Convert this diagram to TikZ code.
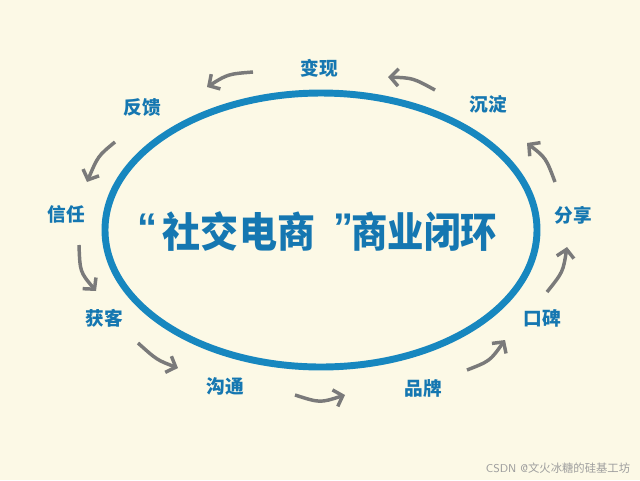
\documentclass[tikz,border=0pt]{standalone}
\usepackage{fontspec}
\usetikzlibrary{arrows.meta}
\newfontfamily\cjk{Noto Sans CJK SC}
\newfontfamily\qfont{Liberation Sans}
\definecolor{bg}{HTML}{FCF9E6}
\definecolor{ringblue}{HTML}{1787BF}
\definecolor{txtblue}{HTML}{1577B1}
\definecolor{arrowgray}{HTML}{7A7A7A}
\tikzset{
  ring/.style={draw=ringblue, line width=5.2pt},
  lbl/.style={text=txtblue, font=\cjk\bfseries\fontsize{14}{15}\selectfont, inner sep=0pt},
  ttl/.style={text=txtblue, font=\cjk\bfseries\fontsize{31}{33}\selectfont, inner sep=0pt, anchor=base},
  qmark/.style={text=txtblue, font=\qfont\bfseries\fontsize{30}{32}\selectfont, inner sep=0pt, anchor=base},
  flow/.style={draw=arrowgray, line width=2.6pt, -{Straight Barb[length=6pt,width=13pt]}},
  wm/.style={text=black!38, font=\sffamily\fontsize{8.5}{9}\selectfont, inner sep=0pt}
}
\begin{document}
\begin{tikzpicture}[x=0.75pt,y=-0.75pt]
\fill[bg] (0,0) rectangle (640,480);
\useasboundingbox (0,0) rectangle (640,480);
\draw[ring] (321,230) ellipse [x radius=162pt, y radius=102.75pt];
\node[qmark] (q1) at (147,241) {“};
\node[ttl] (t1) at (239,247) {\scalebox{0.92}[1]{社交电商}};
\node[qmark] (q2) at (343,241) {”};
\node[ttl] (t2) at (424,247) {\scalebox{0.88}[1]{商业闭环}};
\node[lbl] (bx) at (319,68) {变现};
\node[lbl] (cd) at (488,104) {沉淀};
\node[lbl] (fx) at (573,215) {分享};
\node[lbl] (kb) at (542,318) {口碑};
\node[lbl] (pp) at (423,388) {品牌};
\node[lbl] (gt) at (225,386) {沟通};
\node[lbl] (hk) at (104,318) {获客};
\node[lbl] (xr) at (66,214) {信任};
\node[lbl] (fk) at (142,107) {反馈};
\node[wm] (wmk) at (558,468) {CSDN @\cjk 文火冰糖的硅基工坊};
% arrow end points
\coordinate (a1s) at (435,90);  \coordinate (a1e) at (388,77);
\coordinate (a2s) at (253,72);  \coordinate (a2e) at (207,87);
\coordinate (a3s) at (115,142); \coordinate (a3e) at (87,182);
\coordinate (a4s) at (79,245);  \coordinate (a4e) at (96,291);
\coordinate (a5s) at (138,343); \coordinate (a5e) at (178,368);
\coordinate (a6s) at (295,395); \coordinate (a6e) at (345,395);
\coordinate (a7s) at (467,370); \coordinate (a7e) at (505,340);
\coordinate (a8s) at (547,292); \coordinate (a8e) at (567,247);
\coordinate (a9s) at (555,182); \coordinate (a9e) at (527,143);
\draw[flow] (a1s) .. controls (413,78) .. (a1e);
\draw[flow] (a2s) .. controls (228,74) .. (a2e);
\draw[flow] (a3s) .. controls (98,156) .. (a3e);
\draw[flow] (a4s) .. controls (80,272) .. (a4e);
\draw[flow] (a5s) .. controls (157,360) .. (a5e);
\draw[flow] (a6s) .. controls (320,403) .. (a6e);
\draw[flow] (a7s) .. controls (490,361) .. (a7e);
\draw[flow] (a8s) .. controls (563,272) .. (a8e);
\draw[flow] (a9s) .. controls (546,158) .. (a9e);
\end{tikzpicture}
\end{document}
